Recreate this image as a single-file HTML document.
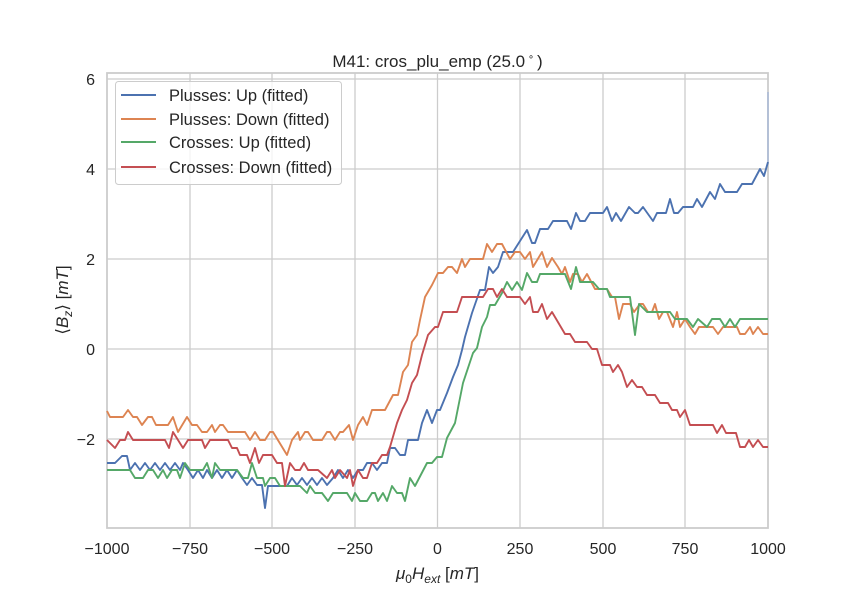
<!DOCTYPE html>
<html><head><meta charset="utf-8"><style>
body{margin:0;background:#fff;}
svg{display:block;font-family:"Liberation Sans","DejaVu Sans",sans-serif;}
</style></head><body>
<svg width="854" height="605" viewBox="0 0 854 605" xmlns="http://www.w3.org/2000/svg">
<rect width="854" height="605" fill="#fff"/>
<g stroke="#cccccc" stroke-width="1.3" fill="none">
<line x1="190" y1="73" x2="190" y2="528"/><line x1="272" y1="73" x2="272" y2="528"/><line x1="355" y1="73" x2="355" y2="528"/><line x1="437.5" y1="73" x2="437.5" y2="528"/><line x1="520" y1="73" x2="520" y2="528"/><line x1="603" y1="73" x2="603" y2="528"/><line x1="685" y1="73" x2="685" y2="528"/>
<line x1="107" y1="79" x2="768" y2="79"/><line x1="107" y1="169" x2="768" y2="169"/><line x1="107" y1="259" x2="768" y2="259"/><line x1="107" y1="349" x2="768" y2="349"/><line x1="107" y1="439" x2="768" y2="439"/>
<rect x="107" y="73" width="661" height="455" stroke-width="1.8"/>
</g>
<g fill="none" stroke-width="1.9" stroke-linejoin="round">
<polyline stroke="#4c72b0" points="107,463 115,463 122,456 127,456 130,470 135,463 140,470 145,463 150,470 155,463 160,470 165,463 170,470 175,463 180,470 183,463 188,470 193,478 198,470 203,478 207,470 212,478 217,470 222,478 227,470 232,478 237,470 242,478 247,485 252,478 257,485 262,485 265,508 268,486 287,486 292,478 297,485 302,478 307,485 312,478 317,485 322,478 327,485 333,478 338,470 343,478 348,470 353,478 358,470 363,470 367,463 372,463 377,470 382,463 387,463 390,448 395,448 400,455 405,455 408,440 418,440 422,423 427,410 432,423 437,410 440,410 447,393 453,377 458,365 462,350 465,337 472,313 480,290 485,290 489,267 493,273 498,267 503,252 513,252 527,230 532,243 535,243 540,229 548,229 553,221 567,221 571,229 576,213 580,221 585,221 590,213 603,213 607,207 612,221 616,213 621,221 629,207 635,213 638,213 643,207 653,221 657,213 666,213 670,199 674,213 678,213 683,207 693,207 697,199 702,207 710,192 715,199 720,184 725,192 737,192 742,184 752,184 760,169 764,176 768,162"/>
<line x1="768" y1="162" x2="768" y2="92" stroke="#a9b8d6" stroke-width="1.5"/>
<polyline stroke="#dd8452" points="107,411 110,417 123,417 128,410 133,417 137,417 142,425 148,417 152,417 156,425 168,425 173,417 178,432 187,417 192,425 197,425 202,432 207,432 212,425 215,432 220,425 223,425 228,432 245,432 250,440 255,432 260,440 265,440 270,432 273,432 287,455 292,440 298,432 300,440 305,432 308,432 313,440 322,440 327,432 330,432 335,440 340,432 343,432 349,425 353,440 358,425 363,417 367,425 372,410 385,410 393,395 398,395 403,372 408,365 412,342 417,335 420,320 425,297 432,285 438,273 443,273 448,267 452,267 457,273 462,259 465,267 470,259 483,259 487,244 492,252 497,244 502,244 510,259 515,252 520,252 525,259 530,252 533,267 542,252 547,267 552,258 558,267 562,274 565,267 570,282 573,274 578,274 582,282 587,274 595,289 607,289 612,297 615,297 619,319 623,304 630,304 634,312 640,304 643,304 648,312 652,312 655,304 659,319 663,312 667,312 673,327 677,312 680,327 685,319 690,327 695,334 699,327 713,327 718,334 723,327 737,327 740,334 745,334 750,327 753,334 758,327 763,334 768,334"/>
<polyline stroke="#55a868" points="107,470 130,470 135,478 143,478 148,470 153,470 158,478 163,470 167,478 172,470 177,470 180,478 185,463 190,470 203,470 207,463 212,478 215,463 220,470 237,470 243,478 248,478 252,463 257,478 263,478 265,486 270,478 275,478 280,486 300,486 307,493 310,486 315,493 322,493 328,501 333,493 347,493 352,501 355,493 360,501 367,501 372,493 375,493 378,501 383,493 387,501 392,486 397,493 402,493 405,501 410,478 415,486 427,463 432,463 437,457 442,457 447,438 455,423 463,383 473,353 477,348 482,327 487,317 490,305 495,305 502,293 507,282 512,290 517,282 522,290 527,273 532,282 537,282 540,274 565,274 571,289 576,267 580,282 593,282 599,289 607,289 610,297 630,297 635,335 639,304 647,312 670,312 675,319 687,319 693,327 698,319 707,327 712,319 720,319 725,327 730,319 735,327 740,319 768,319"/>
<polyline stroke="#c44e52" points="107,440 115,448 120,440 125,440 128,432 133,440 165,440 169,448 173,432 183,448 188,440 202,440 205,448 210,440 228,440 232,448 237,448 240,455 247,455 250,463 255,448 259,463 263,455 272,455 277,463 282,463 285,486 290,463 295,470 300,470 304,463 308,470 318,470 327,478 332,470 335,478 340,470 347,478 350,470 353,486 358,470 363,478 367,478 372,463 377,463 382,455 387,455 390,447 397,423 402,410 407,400 412,383 417,375 422,355 428,335 435,327 438,327 443,312 457,312 462,297 483,297 488,289 493,289 497,297 502,289 507,297 520,297 525,304 530,297 533,312 538,312 542,304 547,319 552,312 565,334 570,334 575,342 587,342 592,349 597,349 602,365 610,365 613,372 618,365 622,372 627,387 632,380 637,387 642,387 647,395 655,395 660,403 668,403 672,410 677,410 680,417 685,410 690,425 713,425 717,433 722,425 726,433 736,433 740,447 745,447 749,440 753,447 758,440 763,447 768,447"/>
</g>
<rect x="115.5" y="81.5" width="226" height="103" rx="3" fill="#fff" fill-opacity="0.8" stroke="#cccccc"/>
<g stroke-width="2">
<line x1="121" y1="95" x2="156" y2="95" stroke="#4c72b0"/>
<line x1="121" y1="119" x2="156" y2="119" stroke="#dd8452"/>
<line x1="121" y1="142" x2="156" y2="142" stroke="#55a868"/>
<line x1="121" y1="167" x2="156" y2="167" stroke="#c44e52"/>
</g>
<g font-size="16.5" fill="#262626">
<text x="169" y="101">Plusses: Up (fitted)</text>
<text x="169" y="125">Plusses: Down (fitted)</text>
<text x="169" y="148">Crosses: Up (fitted)</text>
<text x="169" y="173">Crosses: Down (fitted)</text>
</g>
<text x="437.5" y="67" font-size="17" fill="#262626" text-anchor="middle">M41: cros_plu_emp (25.0<tspan font-size="10" dy="-7"> ∘ </tspan><tspan dy="7">)</tspan></text>
<g font-size="16" fill="#262626" text-anchor="end">
<text x="95" y="85">6</text><text x="95" y="175">4</text><text x="95" y="265">2</text><text x="95" y="355">0</text><text x="95" y="445">−2</text>
</g>
<g font-size="16" fill="#262626" text-anchor="middle">
<text x="107" y="554">−1000</text><text x="190" y="554">−750</text><text x="272" y="554">−500</text><text x="355" y="554">−250</text><text x="437.5" y="554">0</text><text x="520" y="554">250</text><text x="603" y="554">500</text><text x="685" y="554">750</text><text x="768" y="554">1000</text>
</g>
<text x="437.5" y="579" font-size="17" fill="#262626" text-anchor="middle"><tspan font-style="italic">μ</tspan><tspan font-size="12" dy="4">0</tspan><tspan dy="-4" font-style="italic">H</tspan><tspan font-size="12" dy="4" font-style="italic">ext</tspan><tspan dy="-4"> [</tspan><tspan font-style="italic">mT</tspan>]</text>
<text transform="translate(68,300) rotate(-90)" font-size="17" fill="#262626" text-anchor="middle">⟨<tspan font-style="italic">B</tspan><tspan font-size="12" dy="4" font-style="italic">z</tspan><tspan dy="-4">⟩ [</tspan><tspan font-style="italic">mT</tspan>]</text>
</svg>
</body></html>
